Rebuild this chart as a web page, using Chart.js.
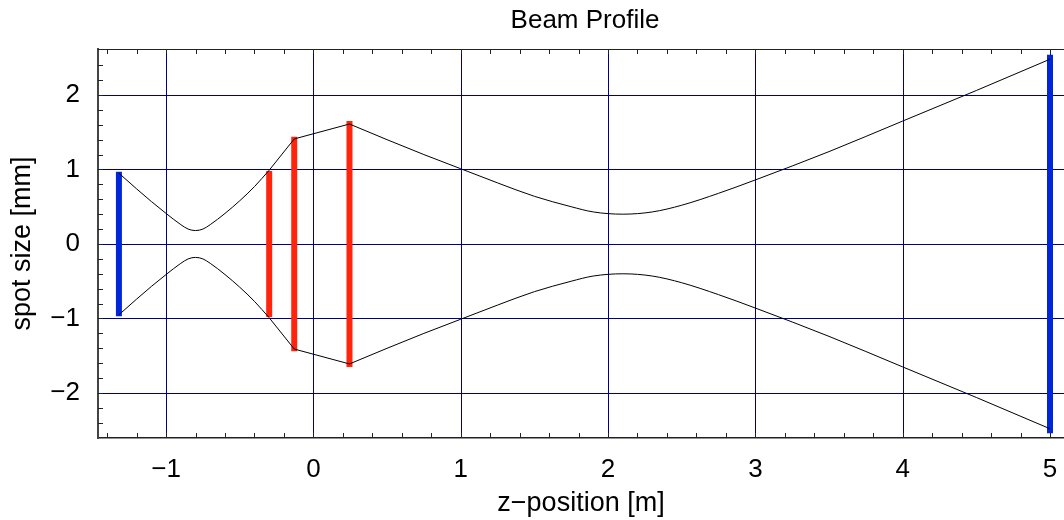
<!DOCTYPE html>
<html>
<head>
<meta charset="utf-8">
<script src="https://cdn.jsdelivr.net/npm/chart.js@4.4.1/dist/chart.umd.min.js"></script>
<style>
  body { margin: 0; background: #fff; }
  #wrap { width: 1064px; height: 520px; }
</style>
</head>
<body>
<div id="wrap"><canvas id="myChart" width="1064" height="520"></canvas></div>
<script>
// beam envelope (half width, mm) along z (m)
const beamZ = [-1.32, -1.2, -1.1, -1.0, -0.9, -0.85, -0.8, -0.75, -0.7, -0.6, -0.5, -0.4, -0.30,
               -0.13, 0.245, 0.5, 0.75, 1.0, 1.25, 1.5, 1.75, 1.9, 2.1, 2.3, 2.5, 2.75, 3.0,
               3.5, 4.0, 4.5, 5.0];
const beamW = [0.95, 0.74, 0.57, 0.41, 0.26, 0.20, 0.18, 0.20, 0.26, 0.41, 0.58, 0.77, 0.99,
               1.41, 1.61, 1.40, 1.20, 1.01, 0.82, 0.64, 0.50, 0.43, 0.40, 0.43, 0.52, 0.68, 0.86,
               1.24, 1.65, 2.06, 2.48];

// optical elements: position, half aperture, type
const elemZ = [-1.32, -0.30, -0.13, 0.245, 5.0];
const elemHalf = [0.97, 0.98, 1.44, 1.65, 2.54];
const elemType = ['screen', 'lens', 'lens', 'lens', 'screen'];

const xTicks = [-1, 0, 1, 2, 3, 4, 5];
const yTicks = [-2, -1, 0, 1, 2];

const blue = 'rgb(0, 38, 217)';
const red = 'rgb(255, 36, 12)';
const navy = '#000080';
const font = 'Liberation Sans, Arial, sans-serif';

let datasets = [];

// one smooth piece of the envelope between neighbouring elements
for (let k = 0; k < elemZ.length - 1; k++) {
    let upper = [];
    let lower = [];
    for (let i = 0; i < beamZ.length; i++) {
        if (beamZ[i] >= elemZ[k] && beamZ[i] <= elemZ[k + 1]) {
            upper.push({x: beamZ[i], y: beamW[i]});
            lower.push({x: beamZ[i], y: -beamW[i]});
        }
    }
    [upper, lower].forEach(function (pts) {
        datasets.push({
            data: pts,
            borderColor: '#000',
            borderWidth: 1,
            pointRadius: 0,
            cubicInterpolationMode: 'monotone',
            order: 0
        });
    });
}

for (let i = 0; i < elemZ.length; i++) {
    datasets.push({
        data: [{x: elemZ[i], y: -elemHalf[i]}, {x: elemZ[i], y: elemHalf[i]}],
        borderColor: elemType[i] == 'lens' ? red : blue,
        borderWidth: 6,
        borderCapStyle: 'butt',
        pointRadius: 0,
        order: 1
    });
}

function fmt(v) {
    return String(v).replace('-', '\u2212');
}

// grid at the labelled values, drawn under the data
const gridLines = {
    id: 'gridLines',
    beforeDatasetsDraw: function (chart) {
        const ctx = chart.ctx;
        const a = chart.chartArea;
        const xs = chart.scales.x;
        const ys = chart.scales.y;
        ctx.save();
        ctx.strokeStyle = navy;
        ctx.lineWidth = 1;
        ctx.beginPath();
        xTicks.forEach(function (v) {
            const px = Math.round(xs.getPixelForValue(v)) + 0.5;
            ctx.moveTo(px, a.top);
            ctx.lineTo(px, a.bottom);
        });
        yTicks.forEach(function (v) {
            const py = Math.round(ys.getPixelForValue(v)) + 0.5;
            ctx.moveTo(a.left, py);
            ctx.lineTo(a.right, py);
        });
        ctx.stroke();
        ctx.restore();
    }
};

// inward tick marks on left, bottom and top, top frame line, title
const frameTicks = {
    id: 'frameTicks',
    afterDraw: function (chart) {
        const ctx = chart.ctx;
        const a = chart.chartArea;
        const xs = chart.scales.x;
        const ys = chart.scales.y;
        ctx.save();
        ctx.strokeStyle = '#222';
        ctx.lineWidth = 1;
        ctx.beginPath();
        ctx.moveTo(a.left, a.top + 0.5);
        ctx.lineTo(a.right, a.top + 0.5);
        for (let i = -7; i <= 25; i++) {
            const px = Math.round(xs.getPixelForValue(i * 0.2)) + 0.5;
            if (px < a.left + 2 || px > a.right) continue;
            ctx.moveTo(px, a.top);
            ctx.lineTo(px, a.top + 5);
            ctx.moveTo(px, a.bottom);
            ctx.lineTo(px, a.bottom - 5);
        }
        for (let i = -13; i <= 13; i++) {
            const py = Math.round(ys.getPixelForValue(i * 0.2)) + 0.5;
            if (py < a.top + 2 || py > a.bottom - 2) continue;
            ctx.moveTo(a.left, py);
            ctx.lineTo(a.left + 5, py);
        }
        ctx.stroke();

        ctx.fillStyle = '#000';
        ctx.font = '26px ' + font;
        ctx.textAlign = 'center';
        ctx.textBaseline = 'alphabetic';
        ctx.fillText('Beam Profile', (a.left + a.right) / 2 + 4, 28);
        ctx.restore();
    }
};

const config = {
    type: 'line',
    data: {datasets: datasets},
    options: {
        responsive: false,
        animation: false,
        devicePixelRatio: 1,
        layout: {padding: {top: 49, right: 0, left: 0, bottom: 0}},
        plugins: {
            legend: {display: false},
            tooltip: {enabled: false},
            title: {display: false}
        },
        scales: {
            x: {
                type: 'linear',
                min: -1.462,
                max: 5.095,
                afterFit: function (scale) {
                    scale.height = 82;
                    scale.paddingLeft = 0;
                    scale.paddingRight = 0;
                },
                ticks: {
                    stepSize: 1,
                    includeBounds: false,
                    color: '#000',
                    padding: 16,
                    font: {family: font, size: 26},
                    maxRotation: 0,
                    callback: function (v) { return xTicks.includes(v) ? fmt(v) : ''; }
                },
                grid: {display: false, drawTicks: false},
                border: {color: '#222', width: 1.5},
                title: {
                    display: true,
                    text: 'z\u2212position [m]',
                    color: '#000',
                    padding: 0,
                    font: {family: font, size: 27}
                }
            },
            y: {
                type: 'linear',
                min: -2.604,
                max: 2.617,
                afterFit: function (scale) {
                    scale.width = 98;
                    scale.paddingTop = 0;
                    scale.paddingBottom = 0;
                },
                ticks: {
                    stepSize: 1,
                    includeBounds: false,
                    color: '#000',
                    padding: 18,
                    font: {family: font, size: 26},
                    callback: function (v) { return yTicks.includes(v) ? fmt(v) : ''; }
                },
                grid: {display: false, drawTicks: false},
                border: {color: '#444', width: 2},
                title: {
                    display: true,
                    text: 'spot size [mm]',
                    color: '#000',
                    padding: {top: 6, bottom: 0},
                    font: {family: font, size: 27}
                }
            }
        }
    },
    plugins: [gridLines, frameTicks]
};

const myChart = new Chart(document.getElementById('myChart'), config);
</script>
</body>
</html>
